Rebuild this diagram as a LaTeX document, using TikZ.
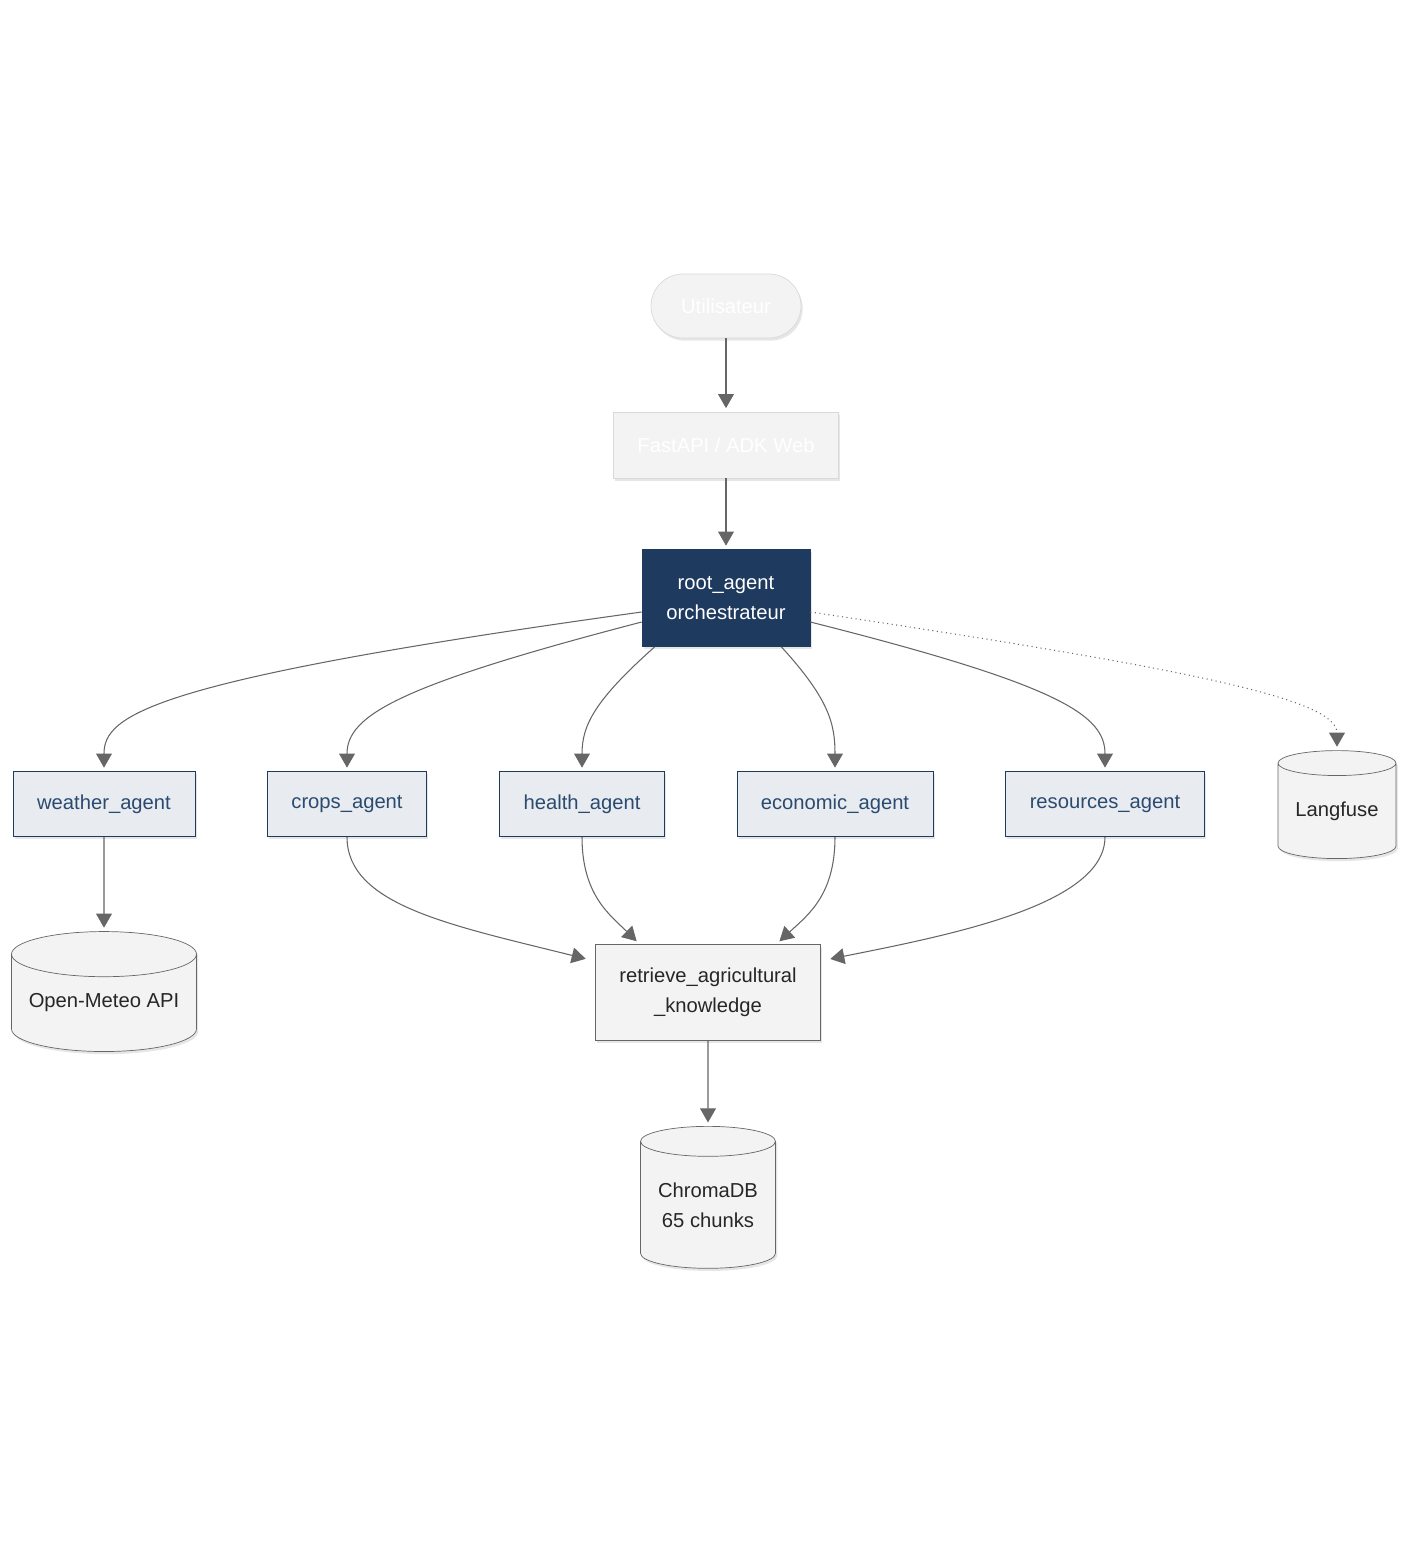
\documentclass[tikz,border=0pt]{standalone}
\usepackage{fontspec}
\setmainfont{Liberation Sans}
\usetikzlibrary{arrows.meta,shapes.geometric,shadows}
\definecolor{navy}{HTML}{1F3A5F}
\definecolor{agentfill}{HTML}{E8ECF0}
\definecolor{agenttext}{HTML}{2B4A6F}
\definecolor{edgegray}{HTML}{666666}
\definecolor{dbfill}{HTML}{F3F3F3}
\tikzset{
  base/.style={font=\fontsize{11.5}{17}\selectfont, align=center, inner sep=0pt,
    drop shadow={opacity=0.2, shadow xshift=1pt, shadow yshift=-1.5pt}},
  agent/.style={base, rectangle, draw=navy, fill=agentfill, text=agenttext, minimum height=1.3cm},
  light/.style={base, fill=dbfill, draw=black!15, text=white},
  db/.style={base, cylinder, shape border rotate=90, aspect=0.3, draw=black!60, fill=dbfill, text=black!85},
  arr/.style={draw=edgegray, line width=0.6pt, -{Triangle[width=9pt,length=8pt]}, shorten >=2pt},
}
\begin{document}
\begin{tikzpicture}[x=0.02cm, y=-0.02cm]
  \useasboundingbox (0,0) rectangle (1408,1542);

  \node[light, rounded corners=0.64cm, minimum width=3cm, minimum height=1.28cm] (user) at (726,306) {Utilisateur};
  \node[light, minimum width=4.5cm, minimum height=1.32cm] (api) at (726,445) {FastAPI / ADK Web};
  \node[base, fill=navy, draw=navy, text=white, minimum width=3.36cm, minimum height=1.94cm] (root) at (726,598) {root\_agent\\orchestrateur};

  \node[agent, minimum width=3.64cm] (weather) at (104,804) {weather\_agent};
  \node[agent, minimum width=3.18cm] (crops) at (347,804) {crops\_agent};
  \node[agent, minimum width=3.3cm] (health) at (582,804) {health\_agent};
  \node[agent, minimum width=3.92cm] (economic) at (835,804) {economic\_agent};
  \node[agent, minimum width=3.98cm] (resources) at (1105,804) {resources\_agent};

  \node[db, minimum width=2.36cm, minimum height=2.16cm] (langfuse) at (1337,811) {Langfuse};
  \node[db, minimum width=3.7cm, minimum height=2.4cm] (meteo) at (104,1003) {Open-Meteo API};
  \node[base, draw=black!60, fill=dbfill, text=black!85, minimum width=4.5cm, minimum height=1.92cm] (retrieve) at (708,992) {retrieve\_agricultural\\\_knowledge};
  \node[db, minimum width=2.7cm, minimum height=2.84cm] (chroma) at (708,1205) {ChromaDB\\65 chunks};

  % straight links
  \draw[arr] (user) -- (api);
  \draw[arr] (api) -- (root);
  \draw[arr] (weather) -- (meteo);
  \draw[arr] (retrieve) -- (chroma);

  % root to agents
  \draw[arr] ([yshift=-0.28cm]root.west) .. controls (150,680) and (104,715) .. (weather.north);
  \draw[arr] ([yshift=-0.48cm]root.west) .. controls (400,685) and (347,715) .. (crops.north);
  \draw[arr] ([xshift=0.26cm]root.south west) .. controls (595,700) and (582,725) .. (health.north);
  \draw[arr] ([xshift=-0.58cm]root.south east) .. controls (830,700) and (835,725) .. (economic.north);
  \draw[arr] ([yshift=-0.48cm]root.east) .. controls (1060,685) and (1105,715) .. (resources.north);
  \draw[arr, dotted] ([yshift=-0.28cm]root.east) .. controls (1200,670) and (1337,700) .. (langfuse.north);

  % agents to retrieve
  \draw[arr] (crops.south) .. controls (347,905) and (450,925) .. ([yshift=-0.32cm,xshift=-0.12cm]retrieve.north west);
  \draw[arr] (health.south) .. controls (582,895) and (610,915) .. ([xshift=0.88cm]retrieve.north west);
  \draw[arr] (economic.south) .. controls (835,895) and (808,915) .. ([xshift=-0.88cm]retrieve.north east);
  \draw[arr] (resources.south) .. controls (1105,905) and (950,935) .. ([yshift=-0.32cm,xshift=0.12cm]retrieve.north east);
\end{tikzpicture}
\end{document}
